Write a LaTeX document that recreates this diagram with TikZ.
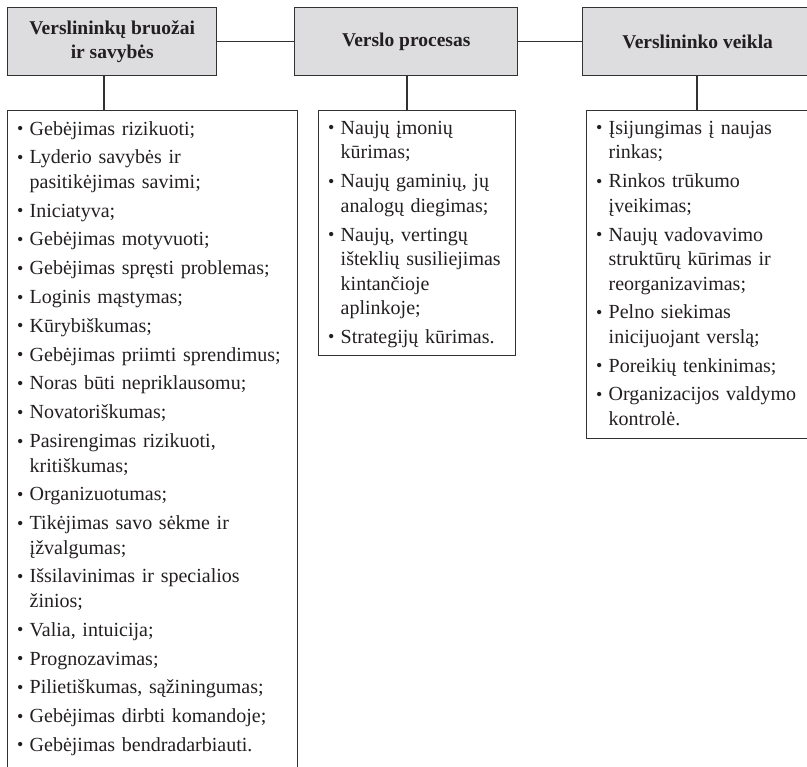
\documentclass[tikz,border=0pt]{standalone}
\usepackage{fontspec}
\setmainfont{Liberation Serif}
\usetikzlibrary{calc}
\definecolor{boxgray}{RGB}{221,221,223}
\definecolor{linegray}{RGB}{50,50,50}
\definecolor{txt}{RGB}{35,31,32}
\newcommand{\bl}{\makebox[12.5pt][l]{\raisebox{0.5pt}{\scalebox{0.9}{\textbullet}}}}
\newcommand{\ct}{\hspace*{12.5pt}}
\newcommand{\ig}{\\[4.3pt]}
\begin{document}
\begin{tikzpicture}[x=1pt,y=-1pt,
  headbox/.style={draw=linegray, line width=1.4pt, fill=boxgray, anchor=north west, inner sep=0pt, align=center, font=\fontsize{19.5}{24}\selectfont\bfseries, text=txt},
  listbox/.style={draw=linegray, line width=1.2pt, anchor=north west, inner sep=0pt},
  listtext/.style={anchor=north west, inner sep=0pt, align=left, text width=#1, font=\fontsize{20}{24.5}\selectfont, text=txt},
  link/.style={draw=linegray, line width=1.3pt}]
\useasboundingbox (0,0) rectangle (807,767);
\clip (0,0) rectangle (807,767);
% header boxes
\node[headbox, minimum width=209pt, minimum height=68pt] (T1) at (7,7) {Verslininkų bruožai\\ir savybės};
\node[headbox, minimum width=223pt, minimum height=68pt] (T2) at (294,7) {Verslo procesas};
\node[headbox, minimum width=230pt, minimum height=68pt] (T3) at (582,7) {Verslininko veikla};
% list boxes
\node[listbox, minimum width=290pt, minimum height=680pt] (L) at (7,110) {};
\node[listbox, minimum width=197pt, minimum height=245pt] (M) at (318,110) {};
\node[listbox, minimum width=226pt, minimum height=328pt] (R) at (586,110) {};
% connectors
\draw[link] (T1.east) -- (T2.west);
\draw[link] (T2.east) -- (T3.west);
\coordinate (v1) at (104,0);
\coordinate (v2) at (407,0);
\coordinate (v3) at (697,0);
\draw[link] (v1 |- T1.south) -- (v1 |- L.north);
\draw[link] (v2 |- T2.south) -- (v2 |- M.north);
\draw[link] (v3 |- T3.south) -- (v3 |- R.north);
% texts
\node[listtext=300pt] (Ltxt) at (17,121) {%
\bl Gebėjimas rizikuoti;\ig
\bl Lyderio savybės ir\\ \ct pasitikėjimas savimi;\ig
\bl Iniciatyva;\ig
\bl Gebėjimas motyvuoti;\ig
\bl Gebėjimas spręsti problemas;\ig
\bl Loginis mąstymas;\ig
\bl Kūrybiškumas;\ig
\bl Gebėjimas priimti sprendimus;\ig
\bl Noras būti nepriklausomu;\ig
\bl Novatoriškumas;\ig
\bl Pasirengimas rizikuoti,\\ \ct kritiškumas;\ig
\bl Organizuotumas;\ig
\bl Tikėjimas savo sėkme ir\\ \ct įžvalgumas;\ig
\bl Išsilavinimas ir specialios\\ \ct žinios;\ig
\bl Valia, intuicija;\ig
\bl Prognozavimas;\ig
\bl Pilietiškumas, sąžiningumas;\ig
\bl Gebėjimas dirbti komandoje;\ig
\bl Gebėjimas bendradarbiauti.};
\node[listtext=250pt] (Mtxt) at (328,121) {%
\bl Naujų įmonių\\ \ct kūrimas;\ig
\bl Naujų gaminių, jų\\ \ct analogų diegimas;\ig
\bl Naujų, vertingų\\ \ct išteklių susiliejimas\\ \ct kintančioje\\ \ct aplinkoje;\ig
\bl Strategijų kūrimas.};
\node[listtext=250pt] (Rtxt) at (596,121) {%
\bl Įsijungimas į naujas\\ \ct rinkas;\ig
\bl Rinkos trūkumo\\ \ct įveikimas;\ig
\bl Naujų vadovavimo\\ \ct struktūrų kūrimas ir\\ \ct reorganizavimas;\ig
\bl Pelno siekimas\\ \ct inicijuojant verslą;\ig
\bl Poreikių tenkinimas;\ig
\bl Organizacijos valdymo\\ \ct kontrolė.};
\end{tikzpicture}
\end{document}
